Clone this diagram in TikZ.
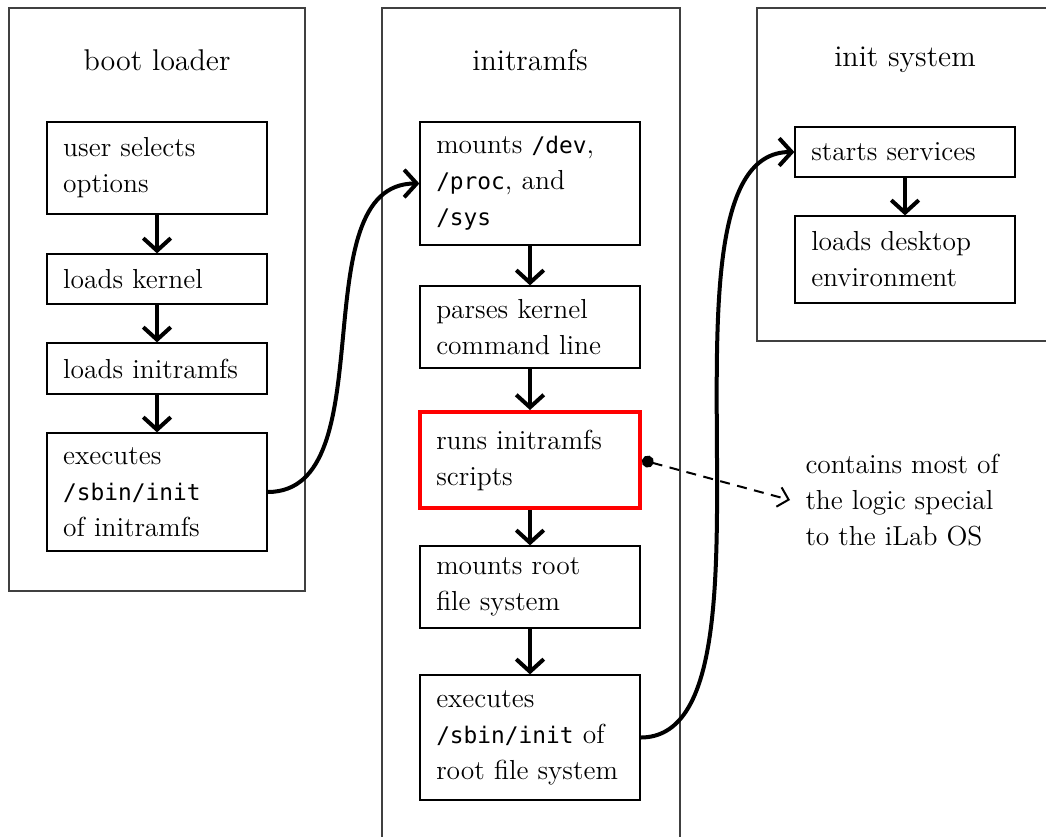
\documentclass[tikz,border=0pt]{standalone}
\usepackage{fontspec}
\setmonofont{DejaVu Sans Mono}[Scale=0.83]
\usetikzlibrary{arrows.meta}
\begin{document}
\begin{tikzpicture}[x=0.4pt,y=-0.4pt,
  outerbox/.style={draw=black!75, line width=0.5pt},
  titletext/.style={font=\fontsize{12}{14.4}\selectfont},
  stepbox/.style={draw, line width=0.5pt, minimum width=88pt, text width=75pt,
    inner xsep=6.5pt, inner ysep=2pt, align=left, font=\fontsize{11}{14.4}\selectfont},
  hilite/.style={draw=red, line width=1.6pt},
  flow/.style={line width=1.6pt, -{Straight Barb[length=5pt,width=11pt]}},
  notearrow/.style={line width=0.8pt, dash pattern=on 4pt off 3pt,
    {Circle[length=4.8pt]}-{Straight Barb[length=4pt,width=8pt]}},
  notetext/.style={align=left, inner xsep=6pt, font=\fontsize{11}{14.4}\selectfont}]
\useasboundingbox (0,0) rectangle (1046,836);
\clip (0,0) rectangle (1046,836);

% outer containers
\draw[outerbox] (9,8) rectangle (305,591);
\draw[outerbox] (382,8) rectangle (680,850);
\draw[outerbox] (757,8) rectangle (1060,341);

\node[titletext] (t1) at (157,60) {boot loader};
\node[titletext] (t2) at (530,60) {initramfs};
\node[titletext] (t3) at (905,60) {init system};

% boot loader
\node[stepbox, minimum height=36.8pt] (us) at (157,168) {user selects\\options};
\node[stepbox, minimum height=20pt] (lk) at (157,279) {loads kernel};
\node[stepbox, minimum height=20.4pt] (li) at (157,368.5) {loads initramfs};
\node[stepbox, minimum height=47.2pt] (ex1) at (157,492) {executes\\\texttt{/sbin/init}\\of initramfs};

% initramfs
\node[stepbox, minimum height=49.2pt] (mnt) at (530,183.5) {mounts \texttt{/dev},\\\texttt{/proc}, and\\\texttt{/sys}};
\node[stepbox, minimum height=32.8pt] (pk) at (530,327) {parses kernel\\command line};
\node[stepbox, hilite, minimum height=38.4pt] (runs) at (530,460) {runs initramfs\\scripts};
\node[stepbox, minimum height=32.8pt] (mr) at (530,587) {mounts root\\file system};
\node[stepbox, minimum height=50pt] (ex2) at (530,737.5) {executes\\\texttt{/sbin/init} of\\root file system};

% init system
\node[stepbox, minimum height=20pt] (ss) at (905,152) {starts services};
\node[stepbox, minimum height=34.8pt] (ld) at (905,259.5) {loads desktop\\environment};

% note
\node[notetext, anchor=west] (note) at (790,500) {contains most of\\the logic special\\to the iLab OS};

% connectors
\draw[flow] (us) -- (lk);
\draw[flow] (lk) -- (li);
\draw[flow] (li) -- (ex1);
\draw[flow] (mnt) -- (pk);
\draw[flow] (pk) -- (runs);
\draw[flow] (runs) -- (mr);
\draw[flow] (mr) -- (ex2);
\draw[flow] (ss) -- (ld);
\draw[flow] (ex1.east) .. controls +(120,0) and +(-120,0) .. (mnt.west);
\draw[flow] (ex2.east) .. controls +(155,0) and +(-155,0) .. (ss.west);
\draw[notearrow] (runs.east) -- (note.west);
\end{tikzpicture}
\end{document}
